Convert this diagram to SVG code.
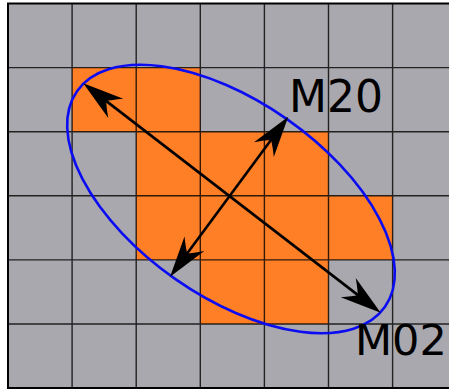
<svg xmlns="http://www.w3.org/2000/svg" width="449" height="390" viewBox="0 0 449 390">
  <style>
    .cell { fill: #a9a8ae; }
    .hot { fill: #fe7f26; }
    .grid { stroke: #000; stroke-opacity: 0.8; stroke-width: 1.4; fill: none; }
    .border { stroke: #000; stroke-width: 2; fill: none; }
    .ell { fill: none; stroke: #0c0cf2; stroke-width: 2.6; }
    .axis { stroke: #000; stroke-width: 2.6; fill: none; marker-start: url(#head-start); marker-end: url(#head); }
    .lbl { font-family: "DejaVu Sans", sans-serif; font-size: 44px; fill: #000; }
  </style>
  <defs>
    <marker id="head" markerUnits="userSpaceOnUse" viewBox="-20 -15 50 30" markerWidth="50" markerHeight="30" refX="0" refY="0" orient="auto" overflow="visible">
      <path d="M25,0 L-16,-12.3 Q-7,-4 -4,0 Q-7,4 -16,12.3 Z" fill="#000"/>
    </marker>
    <marker id="head-start" markerUnits="userSpaceOnUse" viewBox="-20 -15 50 30" markerWidth="50" markerHeight="30" refX="0" refY="0" orient="auto-start-reverse" overflow="visible">
      <path d="M25,0 L-16,-12.3 Q-7,-4 -4,0 Q-7,4 -16,12.3 Z" fill="#000"/>
    </marker>
  </defs>
  <g id="background">
    <rect class="cell" x="8" y="3.5" width="441" height="384.6"/>
  </g>
  <g id="region">
    <rect class="hot" x="72.1" y="67.6" width="128.2" height="64.1"/>
    <rect class="hot" x="136.2" y="131.7" width="192.3" height="64.1"/>
    <rect class="hot" x="136.2" y="195.8" width="256.4" height="64.1"/>
    <rect class="hot" x="200.3" y="259.9" width="128.2" height="64.1"/>
  </g>
  <g id="grid">
    <path class="grid" d="M72.1,3.5V388.1 M136.2,3.5V388.1 M200.3,3.5V388.1 M264.4,3.5V388.1 M328.5,3.5V388.1 M392.6,3.5V388.1 M8,67.6H449 M8,131.7H449 M8,195.8H449 M8,259.9H449 M8,324H449"/>
    <path class="border" d="M449,3.5H8V388.1H449"/>
  </g>
  <g id="ellipse">
    <ellipse class="ell" cx="231" cy="199" rx="188" ry="97.5" transform="rotate(35 231 199)"/>
  </g>
  <g id="connectors">
    <line id="m02-axis" class="axis" x1="103.1" y1="98.6" x2="360.9" y2="297.4"/>
    <line id="m20-axis" class="axis" x1="184.9" y1="256.6" x2="273.4" y2="136.8"/>
  </g>
  <g id="label-m20">
    <text class="lbl" x="289" y="112">M20</text>
  </g>
  <g id="label-m02">
    <text class="lbl" x="355" y="355" style="font-size:43px">M02</text>
  </g>
</svg>
